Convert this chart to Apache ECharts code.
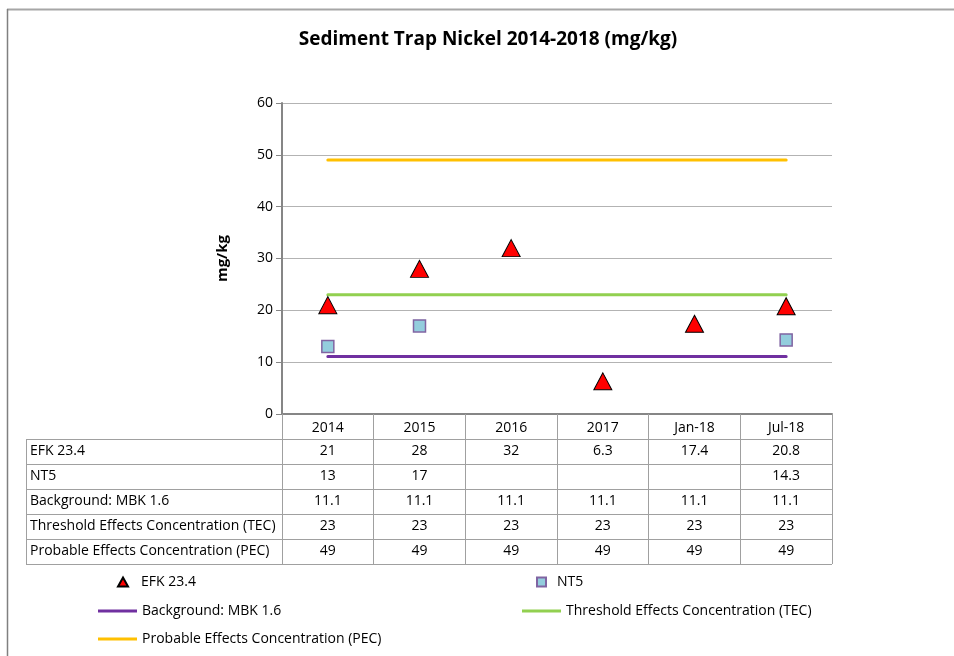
<!DOCTYPE html>
<html>
<head>
<meta charset="utf-8">
<script src="https://cdn.jsdelivr.net/npm/echarts@6/dist/echarts.min.js"></script>
<style>
  html, body { margin: 0; padding: 0; background: #fff; }
  #chart { width: 954px; height: 656px; }
</style>
</head>
<body>
<div id="chart"></div>
<script>
// Sampling periods along the x axis
const categories = ['2014', '2015', '2016', '2017', 'Jan-18', 'Jul-18'];

// Measured nickel (mg/kg) at each station
const efk = [21, 28, 32, 6.3, 17.4, 20.8];
const nt5 = [13, 17, null, null, null, 14.3];

// Reference levels (mg/kg)
const background = [11.1, 11.1, 11.1, 11.1, 11.1, 11.1];
const tec = [23, 23, 23, 23, 23, 23];
const pec = [49, 49, 49, 49, 49, 49];

const seriesNames = [
  'EFK 23.4',
  'NT5',
  'Background: MBK 1.6',
  'Threshold Effects Concentration (TEC)',
  'Probable Effects Concentration (PEC)'
];
const seriesData = [efk, nt5, background, tec, pec];

// Value axis range
const yMin = 0, yMax = 60, yStep = 10;

const FONT = 'Open Sans';
const TEXT_SIZE = 14;
const GRID = { left: 282, right: 122, top: 103, bottom: 242 };
const ROW_H = 25;
const TABLE_LEFT = 26;

const chart = echarts.init(document.getElementById('chart'), null, { renderer: 'canvas' });

const textStyle = { fontFamily: FONT, fontSize: TEXT_SIZE, color: '#000' };

function legendFor(name, left, top, icon, w, h, pad) {
  return {
    data: [name], left: left, top: top, orient: 'horizontal',
    padding: 0,
    icon: icon, itemWidth: w, itemHeight: h, itemGap: 0,
    selectedMode: false,
    textStyle: Object.assign({}, textStyle, { padding: [0, 0, 0, pad] })
  };
}

const option = {
  backgroundColor: '#fff',
  animation: false,
  title: {
    text: 'Sediment Trap Nickel 2014-2018 (mg/kg)',
    left: 483, top: 25, textAlign: 'center',
    textStyle: { fontFamily: FONT, fontSize: 19, fontWeight: 'bold', color: '#000' }
  },
  grid: GRID,
  legend: [
    legendFor(seriesNames[0], 117, 575, 'triangle', 10, 9, 8),
    legendFor(seriesNames[1], 536, 575, 'rect', 9, 9, 6),
    legendFor(seriesNames[2], 98, 604, 'rect', 39, 3, 0),
    legendFor(seriesNames[3], 522, 604, 'rect', 39, 3, 0),
    legendFor(seriesNames[4], 98, 632, 'rect', 39, 3, 0)
  ],
  xAxis: {
    type: 'category',
    data: categories,
    boundaryGap: true,
    axisLine: { lineStyle: { color: '#868686', width: 2 } },
    axisTick: { show: true, interval: 0, length: ROW_H * 6, lineStyle: { color: '#a0a0a0', width: 1 } },
    axisLabel: { interval: 0, margin: 7, fontFamily: FONT, fontSize: TEXT_SIZE, color: '#000' },
    splitLine: { show: false }
  },
  yAxis: {
    type: 'value',
    min: yMin, max: yMax, interval: yStep,
    name: 'mg/kg',
    nameLocation: 'middle',
    nameRotate: 90,
    nameGap: 52,
    nameTextStyle: { fontFamily: FONT, fontSize: 15, fontWeight: 'bold', color: '#000' },
    axisLine: { show: true, lineStyle: { color: '#868686', width: 2 } },
    axisTick: { show: true, length: 6, lineStyle: { color: '#868686' } },
    axisLabel: { margin: 9, fontFamily: FONT, fontSize: TEXT_SIZE, color: '#000' },
    splitLine: { lineStyle: { color: '#b3b3b3', width: 1 } }
  },
  series: [
    {
      name: seriesNames[2], type: 'line', data: background,
      symbol: 'none', z: 2,
      itemStyle: { color: '#7030A0' },
      lineStyle: { color: '#7030A0', width: 3, cap: 'round' }
    },
    {
      name: seriesNames[3], type: 'line', data: tec,
      symbol: 'none', z: 2,
      itemStyle: { color: '#92D050' },
      lineStyle: { color: '#92D050', width: 3, cap: 'round' }
    },
    {
      name: seriesNames[4], type: 'line', data: pec,
      symbol: 'none', z: 2,
      itemStyle: { color: '#FFC000' },
      lineStyle: { color: '#FFC000', width: 3, cap: 'round' }
    },
    {
      name: seriesNames[0], type: 'scatter', data: efk,
      symbol: 'triangle', symbolSize: [18, 17], z: 4,
      itemStyle: { color: '#FF0000', borderColor: '#000', borderWidth: 1, opacity: 1 }
    },
    {
      name: seriesNames[1], type: 'scatter', data: nt5,
      symbol: 'rect', symbolSize: 12, z: 4,
      itemStyle: { color: '#93CDDD', borderColor: '#8064A2', borderWidth: 1.5, opacity: 1 }
    }
  ]
};

chart.setOption(option);

// Data table under the plot, aligned with the category columns
function buildTable() {
  const x0 = chart.convertToPixel({ xAxisIndex: 0 }, categories[0]);
  const x1 = chart.convertToPixel({ xAxisIndex: 0 }, categories[1]);
  const band = x1 - x0;
  const leftEdge = x0 - band / 2;
  const rightEdge = leftEdge + band * categories.length;
  const axisY = chart.convertToPixel({ yAxisIndex: 0 }, yMin);
  const firstRowTop = axisY + ROW_H;

  const elements = [];
  const lineColor = '#a0a0a0';

  // horizontal row separators
  for (let r = 0; r <= seriesNames.length; r++) {
    const y = Math.round(firstRowTop + r * ROW_H) + 0.5;
    elements.push({
      type: 'line', silent: true,
      shape: { x1: TABLE_LEFT, y1: y, x2: rightEdge, y2: y },
      style: { stroke: lineColor, lineWidth: 1 }
    });
  }
  // left border of the label column
  elements.push({
    type: 'line', silent: true,
    shape: { x1: TABLE_LEFT + 0.5, y1: firstRowTop, x2: TABLE_LEFT + 0.5, y2: firstRowTop + ROW_H * seriesNames.length },
    style: { stroke: lineColor, lineWidth: 1 }
  });

  // row labels and values
  seriesNames.forEach(function (name, r) {
    const cy = firstRowTop + r * ROW_H + ROW_H / 2;
    elements.push({
      type: 'text', silent: true,
      x: TABLE_LEFT + 4, y: cy,
      style: { text: name, fontFamily: FONT, fontSize: TEXT_SIZE, fill: '#000', align: 'left', verticalAlign: 'middle' }
    });
    seriesData[r].forEach(function (v, c) {
      if (v === null) return;
      elements.push({
        type: 'text', silent: true,
        x: chart.convertToPixel({ xAxisIndex: 0 }, categories[c]), y: cy,
        style: { text: String(v), fontFamily: FONT, fontSize: TEXT_SIZE, fill: '#000', align: 'center', verticalAlign: 'middle' }
      });
    });
  });

  // outer frame of the chart area
  elements.push({
    type: 'line', silent: true,
    shape: { x1: 7, y1: 9.5, x2: 954, y2: 9.5 },
    style: { stroke: '#a6a6a6', lineWidth: 2 }
  });
  elements.push({
    type: 'line', silent: true,
    shape: { x1: 7.5, y1: 9, x2: 7.5, y2: 656 },
    style: { stroke: '#808080', lineWidth: 1.5 }
  });

  chart.setOption({ graphic: elements });
}

buildTable();
</script>
</body>
</html>
